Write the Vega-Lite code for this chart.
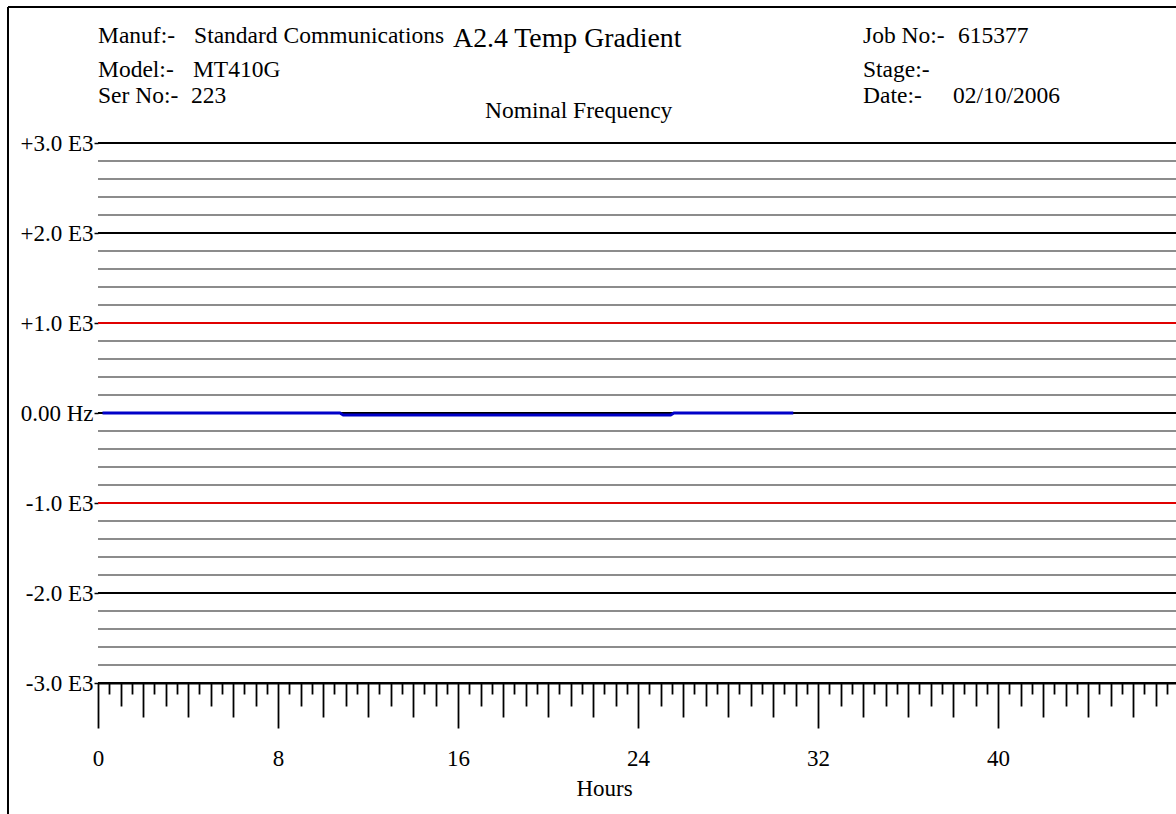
{
  "$schema": "https://vega.github.io/schema/vega-lite/v6.json",
  "width": 1078,
  "height": 540,
  "autosize": {"type": "none"},
  "padding": {"left": 98, "top": 143, "right": 0, "bottom": 131},
  "background": "white",
  "config": {"view": {"stroke": null}},
  "layer": [
    {
      "data": {"values": [
        {"v": 3000, "k": "thousand"}, {"v": 2800, "k": "minor"}, {"v": 2600, "k": "minor"}, {"v": 2400, "k": "minor"}, {"v": 2200, "k": "minor"},
        {"v": 2000, "k": "thousand"}, {"v": 1800, "k": "minor"}, {"v": 1600, "k": "minor"}, {"v": 1400, "k": "minor"}, {"v": 1200, "k": "minor"},
        {"v": 1000, "k": "limit"}, {"v": 800, "k": "minor"}, {"v": 600, "k": "minor"}, {"v": 400, "k": "minor"}, {"v": 200, "k": "minor"},
        {"v": 0, "k": "thousand"}, {"v": -200, "k": "minor"}, {"v": -400, "k": "minor"}, {"v": -600, "k": "minor"}, {"v": -800, "k": "minor"},
        {"v": -1000, "k": "limit"}, {"v": -1200, "k": "minor"}, {"v": -1400, "k": "minor"}, {"v": -1600, "k": "minor"}, {"v": -1800, "k": "minor"},
        {"v": -2000, "k": "thousand"}, {"v": -2200, "k": "minor"}, {"v": -2400, "k": "minor"}, {"v": -2600, "k": "minor"}, {"v": -2800, "k": "minor"},
        {"v": -3000, "k": "thousand"}
      ]},
      "mark": {"type": "rule", "strokeWidth": 1.8},
      "encoding": {
        "y": {"field": "v", "type": "quantitative", "title": null},
        "color": {"field": "k", "type": "nominal", "legend": null,
          "scale": {"domain": ["thousand", "limit", "minor"], "range": ["#000000", "#e00000", "#8c8c8c"]}}
      }
    },
    {
      "data": {"values": [
        {"h": -4, "h2": 48, "v": 4511, "v2": 4511},
        {"h": -4, "h2": -4, "v": 4511, "v2": -4600}
      ]},
      "mark": {"type": "rule", "strokeWidth": 2, "color": "black"},
      "encoding": {
        "x": {"field": "h", "type": "quantitative", "title": "Hours"},
        "x2": {"field": "h2"},
        "y": {"field": "v", "type": "quantitative", "title": null},
        "y2": {"field": "v2"}
      }
    },
    {
      "data": {"values": [
        {"t": "Manuf:-", "h": 0, "v": 4111},
        {"t": "Standard Communications", "h": 4.27, "v": 4111},
        {"t": "Model:-", "h": 0, "v": 3733},
        {"t": "MT410G", "h": 4.22, "v": 3733},
        {"t": "Ser No:-", "h": 0, "v": 3444},
        {"t": "223", "h": 4.13, "v": 3444},
        {"t": "Nominal Frequency", "h": 17.2, "v": 3278},
        {"t": "Job No:-", "h": 34.0, "v": 4111},
        {"t": "615377", "h": 38.22, "v": 4111},
        {"t": "Stage:-", "h": 34.0, "v": 3733},
        {"t": "Date:-", "h": 34.0, "v": 3444},
        {"t": "02/10/2006", "h": 38.0, "v": 3444}
      ]},
      "mark": {"type": "text", "align": "left", "baseline": "alphabetic", "font": "Liberation Serif", "fontSize": 23.5, "color": "black"},
      "encoding": {
        "x": {"field": "h", "type": "quantitative", "title": "Hours"},
        "y": {"field": "v", "type": "quantitative", "title": null},
        "text": {"field": "t"}
      }
    },
    {
      "data": {"values": [
        {"t": "A2.4 Temp Gradient", "h": 15.78, "v": 4067}
      ]},
      "mark": {"type": "text", "align": "left", "baseline": "alphabetic", "font": "Liberation Serif", "fontSize": 27.8, "color": "black"},
      "encoding": {
        "x": {"field": "h", "type": "quantitative", "title": "Hours"},
        "y": {"field": "v", "type": "quantitative", "title": null},
        "text": {"field": "t"}
      }
    },
    {
      "data": {"values": [
        {"h": 0.2, "v": 0}, {"h": 10.75, "v": 0}, {"h": 10.9, "v": -22},
        {"h": 25.45, "v": -22}, {"h": 25.6, "v": 0}, {"h": 30.9, "v": 0}
      ]},
      "mark": {"type": "line", "color": "#0000c8", "strokeWidth": 3},
      "encoding": {
        "x": {
          "field": "h", "type": "quantitative",
          "scale": {"domain": [0, 47.91], "nice": false, "zero": false},
          "title": "Hours",
          "axis": {
            "values": [0,0.5,1,1.5,2,2.5,3,3.5,4,4.5,5,5.5,6,6.5,7,7.5,8,8.5,9,9.5,10,10.5,11,11.5,12,12.5,13,13.5,14,14.5,15,15.5,16,16.5,17,17.5,18,18.5,19,19.5,20,20.5,21,21.5,22,22.5,23,23.5,24,24.5,25,25.5,26,26.5,27,27.5,28,28.5,29,29.5,30,30.5,31,31.5,32,32.5,33,33.5,34,34.5,35,35.5,36,36.5,37,37.5,38,38.5,39,39.5,40,40.5,41,41.5,42,42.5,43,43.5,44,44.5,45,45.5,46,46.5,47,47.5],
            "tickCount": 500,
            "title": "Hours",
            "titleFont": "Liberation Serif",
            "titleFontSize": 23,
            "titleFontWeight": "normal",
            "titleColor": "black",
            "titleX": 506,
            "titleY": 112,
            "titleBaseline": "alphabetic",
            "labelExpr": "datum.value % 8 === 0 ? datum.value : ''",
            "labelFont": "Liberation Serif",
            "labelFontSize": 23,
            "labelColor": "black",
            "labelOverlap": false,
            "labelFlush": false,
            "labelBound": false,
            "labelPadding": 19,
            "tickColor": "black",
            "tickWidth": 1.8,
            "tickSize": {"condition": [
              {"test": "datum.value % 8 === 0", "value": 45},
              {"test": "datum.value % 2 === 0", "value": 34},
              {"test": "datum.value % 1 === 0", "value": 23}
            ], "value": 11},
            "domainColor": "black",
            "domainWidth": 2,
            "grid": false
          }
        },
        "y": {
          "field": "v", "type": "quantitative",
          "scale": {"domain": [-3000, 3000], "nice": false, "zero": false},
          "title": null,
          "axis": {
            "values": [-3000, -2000, -1000, 0, 1000, 2000, 3000],
            "title": null,
            "domain": false,
            "grid": false,
            "tickSize": 4,
            "tickColor": "black",
            "tickWidth": 1.5,
            "labelPadding": 1,
            "labelExpr": "datum.value === 0 ? '0.00 Hz' : (datum.value > 0 ? '+' : '-') + format(abs(datum.value) / 1000, '.1f') + ' E3'",
            "labelFont": "Liberation Serif",
            "labelFontSize": 23,
            "labelColor": "black"
          }
        }
      }
    }
  ]
}
